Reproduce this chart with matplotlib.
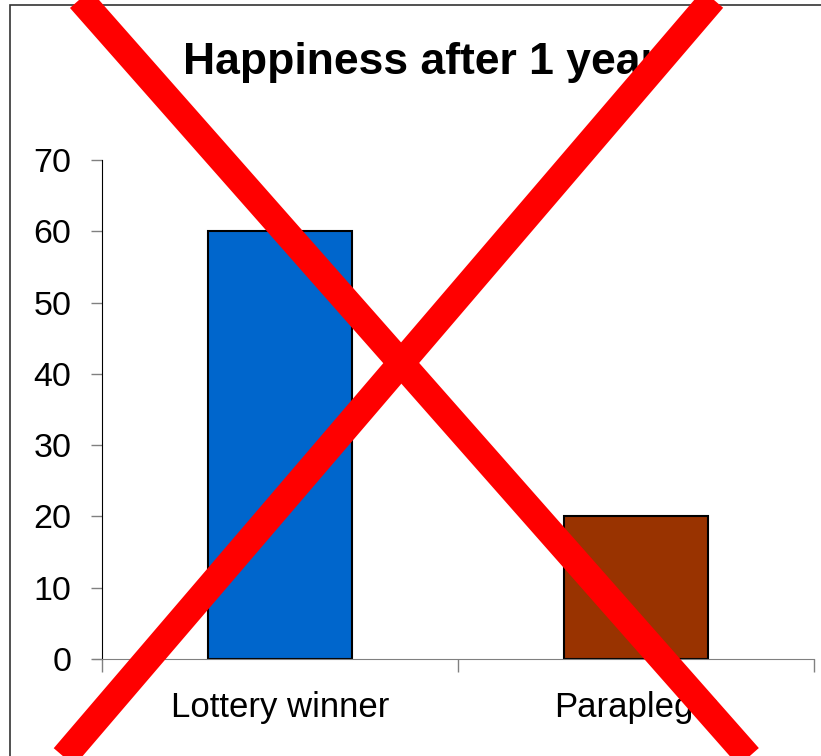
import numpy as np
import matplotlib.pyplot as plt
from matplotlib.lines import Line2D
from matplotlib.patches import Rectangle

categories = ['Lottery winner', 'Paraplegic']
values = [60, 20]
bar_colors = ['#0066CC', '#993300']
yticks = [0, 10, 20, 30, 40, 50, 60, 70]

W, H = 821, 756
plt.rcParams['font.family'] = ['Liberation Sans', 'DejaVu Sans']

fig = plt.figure(figsize=(W / 100, H / 100), dpi=100)
ax = fig.add_axes([102 / W, (H - 659) / H, (814 - 102) / W, (659 - 160) / H])

x = np.arange(len(categories))
ax.bar(x, values, width=0.405, color=bar_colors, edgecolor='black', linewidth=1.5, zorder=2)

ax.set_xlim(-0.5, 1.5)
ax.set_ylim(0, 70)
ax.set_yticks(yticks)
ax.set_yticklabels([str(v) for v in yticks], fontsize=24.5)

# category labels centred, ticks at category boundaries
ax.set_xticks([-0.5, 0.5, 1.5])
ax.set_xticklabels([])
ax.set_xticks(x, minor=True)
ax.set_xticklabels(categories, minor=True, fontsize=25)
ax.tick_params(axis='x', which='minor', length=0, pad=23)
ax.tick_params(axis='x', which='major', length=9, width=1, color='#808080')
ax.tick_params(axis='y', length=8, width=1, color='#808080', pad=14)

for s in ['top', 'right']:
    ax.spines[s].set_visible(False)
ax.spines['left'].set_color('black')
ax.spines['bottom'].set_color('#808080')
ax.spines['bottom'].set_bounds(-0.525, 1.5)

fig.text(183 / W, 1 - 74 / H, 'Happiness after 1 year', ha='left', va='baseline',
         fontsize=32, fontweight='bold')

# figure border
fig.add_artist(Rectangle((10 / W, -0.05), 1.1, 1 - 5 / H + 0.05, transform=fig.transFigure,
                         fill=False, edgecolor='#333333', linewidth=1.2))

# red cross over the whole chart
def px_line(x0, y0, x1, y1):
    return Line2D([x0 / W, x1 / W], [1 - y0 / H, 1 - y1 / H], transform=fig.transFigure,
                  color='#FF0000', linewidth=19.5, solid_capstyle='butt', zorder=10)

fig.add_artist(px_line(81 - 0.882 * 30, -30, 81 + 0.882 * 790, 790))
fig.add_artist(px_line(712 + 0.856 * 30, -30, 712 - 0.856 * 790, 790))

fig.savefig('out.png', dpi=100)
